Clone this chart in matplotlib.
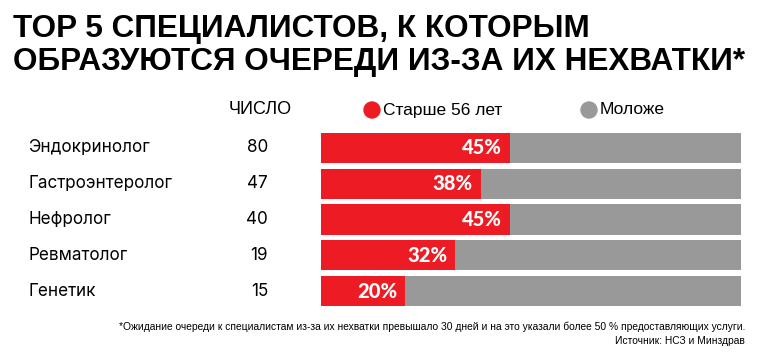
import matplotlib
matplotlib.use("Agg")
import matplotlib.pyplot as plt
from matplotlib.patches import Ellipse
from matplotlib.transforms import blended_transform_factory

# data
specialists = ["Эндокринолог", "Гастроэнтеролог", "Нефролог", "Ревматолог", "Генетик"]
counts = [80, 47, 40, 19, 15]
older_pct = [45, 38, 45, 32, 20]

RED = "#ed1c24"
GREY = "#999999"
NARROW = "Liberation Sans"
BODY = "Inter"

W, H = 768, 356
fig = plt.figure(figsize=(W / 100, H / 100), dpi=100)


def fx(px):
    return px / W


def fy(py):
    return 1 - py / H


# title
fig.text(fx(13), fy(37), "TOP 5 СПЕЦИАЛИСТОВ, К КОТОРЫМ", fontsize=22.7, fontweight="bold",
         family=NARROW, va="baseline", ha="left")
fig.text(fx(13), fy(70), "ОБРАЗУЮТСЯ ОЧЕРЕДИ ИЗ-ЗА ИХ НЕХВАТКИ*", fontsize=22.7, fontweight="bold",
         family=NARROW, va="baseline", ha="left")

# bars area
ax = fig.add_axes([fx(321), fy(309), fx(741) - fx(321), (309 - 130) / H])
y = list(range(len(specialists)))
younger = [100 - p for p in older_pct]
ax.barh(y, older_pct, height=0.84, color=RED)
ax.barh(y, younger, left=older_pct, height=0.84, color=GREY)
ax.set_xlim(0, 100)
ax.set_ylim(len(specialists) - 0.5, -0.5)
ax.axis("off")

for yi, p in zip(y, older_pct):
    ax.text(p - 1.9, yi, f"{p}%", color="white", fontsize=14.5, fontweight="black",
            family="Lato", ha="right", va="center")

tr = blended_transform_factory(fig.transFigure, ax.transData)
for yi, name, c in zip(y, specialists, counts):
    ax.text(fx(28), yi, name, transform=tr, fontsize=12.3, family=BODY, ha="left", va="center")
    ax.text(fx(268), yi, str(c), transform=tr, fontsize=12.3, family=BODY, ha="right", va="center")

# header / legend
fig.text(fx(260), fy(110), "ЧИСЛО", fontsize=13, family=NARROW, ha="center", va="center")
fig.add_artist(Ellipse((fx(372), fy(110)), 16 / W, 16 / H, transform=fig.transFigure, color=RED))
fig.text(fx(383), fy(110), "Старше 56 лет", fontsize=12.5, family=NARROW, ha="left", va="center")
fig.add_artist(Ellipse((fx(589), fy(110)), 16 / W, 16 / H, transform=fig.transFigure, color=GREY))
fig.text(fx(600), fy(110), "Моложе", fontsize=12.5, family=NARROW, ha="left", va="center")

# footnote
fig.text(fx(745), fy(327), "*Ожидание очереди к специалистам из-за их нехватки превышало 30 дней "
         "и на это указали более 50 % предоставляющих услуги.",
         fontsize=7.4, family=NARROW, ha="right", va="center")
fig.text(fx(745), fy(341), "Источник: НСЗ и Минздрав", fontsize=7.4, family=NARROW,
         ha="right", va="center")

fig.savefig("out.png", dpi=100, facecolor="white")
